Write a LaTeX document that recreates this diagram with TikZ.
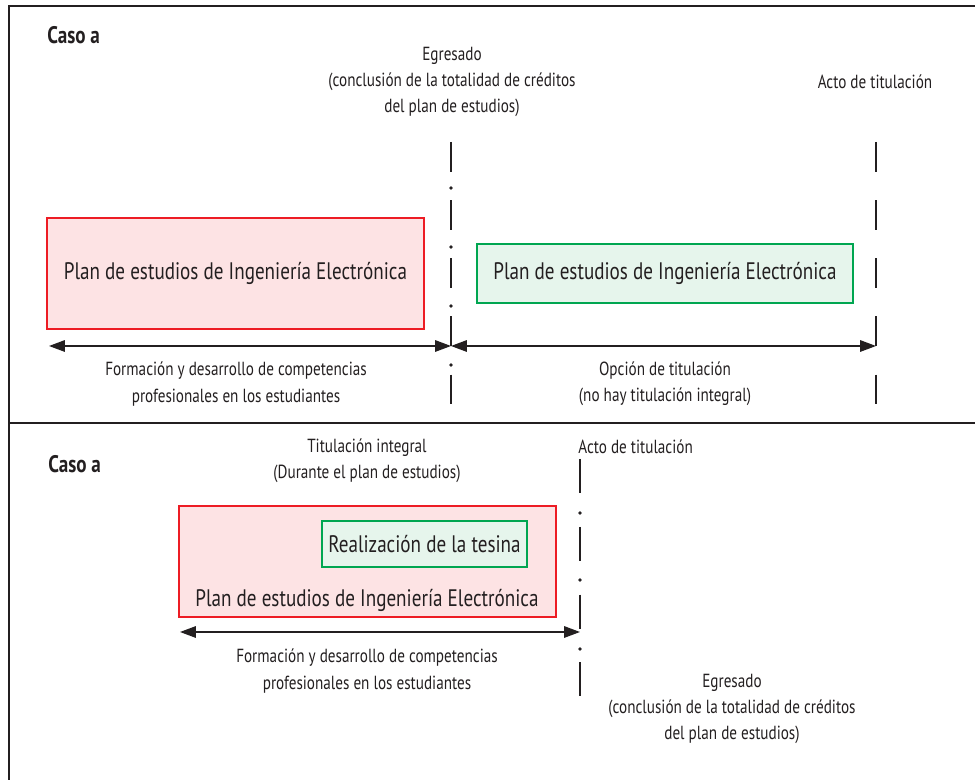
\documentclass[tikz,border=0pt]{standalone}
\usepackage{fontspec}
\setmainfont[FakeStretch=0.8]{PT Sans}
\usetikzlibrary{arrows.meta}
\definecolor{tinta}{RGB}{35,31,32}
\definecolor{rojoborde}{RGB}{237,28,36}
\definecolor{rojofondo}{RGB}{253,227,228}
\definecolor{verdeborde}{RGB}{0,166,81}
\definecolor{verdefondo}{RGB}{230,245,236}
\tikzset{
  texto/.style = {align=center, inner sep=0pt, font=\fontsize{10.8}{15}\selectfont},
  titulo/.style = {inner sep=0pt, font=\fontsize{13.6}{16}\selectfont},
  caso/.style = {anchor=base west, inner sep=0pt, font=\bfseries\fontsize{13.6}{16}\selectfont},
  planrojo/.style = {draw=rojoborde, fill=rojofondo, line width=1pt, minimum width=7.54cm, minimum height=2.22cm},
  planverde/.style = {draw=verdeborde, fill=verdefondo, line width=1pt},
  cota/.style = {{Triangle[length=9pt,width=6.5pt]}-{Triangle[length=9pt,width=6.5pt]}, line width=0.9pt},
  raya/.style = {line width=1.2pt, dash pattern=on 16.8pt off 16.3pt},
  rayab/.style = {line width=1.2pt, dash pattern=on 19.3pt off 19.3pt}
}
\begin{document}
\begin{tikzpicture}[x=0.02cm, y=-0.02cm, tinta]
\useasboundingbox (0,0) rectangle (975,780);
% marco
\draw[line width=1.7pt] (9,800) -- (9,6) -- (1000,6);
\draw[line width=1.7pt] (9,423) -- (1000,423);

% caso de arriba
\node[caso] (caso1) at (47,44) {Caso a};
\node[texto] (egresado1) at (452,82) {Egresado\\(conclusión de la totalidad de créditos\\del plan de estudios)};
\node[texto] (acto1) at (875,82) {Acto de titulación};
\node[planrojo, titulo] (plan1) at (235.5,273.5) {Plan de estudios de Ingeniería Electrónica};
\node[planverde, titulo, minimum width=7.52cm, minimum height=1.18cm] (plan1b) at (665,273.5) {Plan de estudios de Ingeniería Electrónica};

\coordinate (egr1a) at (451,142);
\coordinate (egr1b) at (451,408);
\coordinate (act1a) at (876,142);
\coordinate (act1b) at (876,408);
\draw[raya] (egr1a) -- (egr1b);
\foreach \y in {188,247,306,365}
   \fill (451,\y) circle[radius=1.1pt];
\draw[raya] (act1a) -- (act1b);

\coordinate (ini1) at (49,346);
\coordinate (med1) at (451,346);
\coordinate (fin1) at (876,346);
\draw[cota] (ini1) -- (med1);
\draw[cota] (med1) -- (fin1);
\node[texto] (formacion1) at (236,384) {Formación y desarrollo de competencias\\profesionales en los estudiantes};
\node[texto] (opcion1) at (665,384) {Opción de titulación\\(no hay titulación integral)};

% caso de abajo
\node[caso] (caso2) at (48,473) {Caso a};
\node[texto] (integral) at (367,461) {Titulación integral\\(Durante el plan de estudios)};
\node[texto, anchor=west] (acto2) at (578,447) {Acto de titulación};
\node[planrojo] (plan2) at (367.5,561.5) {};
\node[planverde, titulo, minimum width=4.1cm, minimum height=0.92cm] (tesina) at (424.5,544) {Realización de la tesina};
\node[titulo] (plan2txt) at (367,600) {Plan de estudios de Ingeniería Electrónica};

\coordinate (egr2a) at (580,459);
\coordinate (egr2b) at (580,697);
\draw[rayab] (egr2a) -- (egr2b);
\foreach \y in {513,580,649}
   \fill (580,\y) circle[radius=1.1pt];
\coordinate (ini2) at (180,632);
\coordinate (med2) at (580,632);
\draw[cota] (ini2) -- (med2);
\node[texto] (formacion2) at (367,671) {Formación y desarrollo de competencias\\profesionales en los estudiantes};
\node[texto] (egresado2) at (732,709) {Egresado\\(conclusión de la totalidad de créditos\\del plan de estudios)};
\end{tikzpicture}
\end{document}
